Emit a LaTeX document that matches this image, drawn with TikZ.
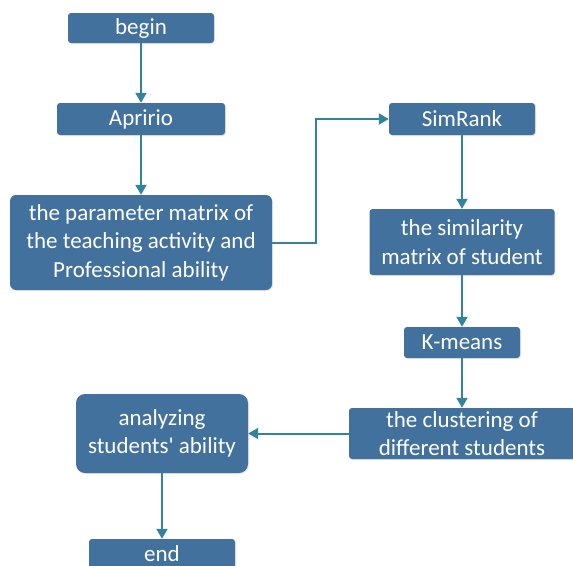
\documentclass[tikz,border=0pt]{standalone}
\usepackage{fontspec}
\setmainfont{Carlito}
\usetikzlibrary{arrows.meta,shadows}
\definecolor{boxblue}{HTML}{41719C}
\definecolor{linkteal}{HTML}{31849B}

\begin{document}
\begin{tikzpicture}[
  x=1pt,y=1pt,
  font=\fontsize{23}{28.5}\selectfont,
  stepbox/.style={fill=boxblue,text=white,rounded corners=3pt,align=center,inner sep=2pt,
    drop shadow={opacity=0.18,shadow xshift=1pt,shadow yshift=-1pt}},
  connection/.style={-{Triangle[length=10pt,width=11pt]},line width=2pt,draw=linkteal}
]
  \useasboundingbox (0,0) rectangle (573,-565);

  % left column
  \node[stepbox,minimum width=146pt,minimum height=30pt] (begin) at (141,-28) {begin};
  \node[stepbox,minimum width=168pt,minimum height=32pt] (apririo) at (141,-119) {Apririo};
  \node[stepbox,minimum width=262pt,minimum height=95pt,rounded corners=6pt] (parameter) at (141,-242.5)
    {the parameter matrix of\\the teaching activity and\\Professional ability};

  % right column
  \node[stepbox,minimum width=146pt,minimum height=32pt] (simrank) at (462,-119) {SimRank};
  \node[stepbox,minimum width=185pt,minimum height=66pt] (similarity) at (462,-242)
    {the similarity\\matrix of student};
  \node[stepbox,minimum width=116pt,minimum height=31pt] (kmeans) at (462,-342.5) {K-means};
  \node[stepbox,minimum width=226pt,minimum height=51pt] (clustering) at (462,-433.5)
    {the clustering of\\different students};

  % back to the left
  \node[stepbox,minimum width=172pt,minimum height=79pt,rounded corners=9pt] (analyzing) at (162,-433.5)
    {analyzing\\students\textquotesingle{} ability};
  \node[stepbox,minimum width=146pt,minimum height=30pt] (end) at (162,-554) {end};

  \draw[connection] (begin) -- (apririo);
  \draw[connection] (apririo) -- (parameter);
  \draw[connection] (parameter.east) -- ++(44,0) |- (simrank.west);
  \draw[connection] (simrank) -- (similarity);
  \draw[connection] (similarity) -- (kmeans);
  \draw[connection] (kmeans) -- (clustering);
  \draw[connection] (clustering) -- (analyzing);
  \draw[connection] (analyzing) -- (end);
\end{tikzpicture}
\end{document}
